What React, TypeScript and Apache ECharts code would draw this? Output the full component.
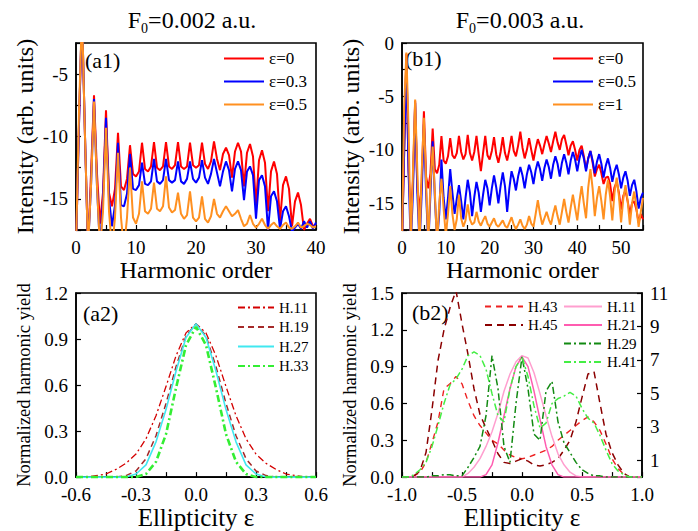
import React, { useEffect, useRef } from 'react';
import * as echarts from 'echarts';

const FONT = "'Liberation Serif', 'Times New Roman', Times, serif";

// ---------- panel (a1): harmonic order 0..40, sampled every half order ----------
const A1_HARMONIC = Array.from({ length: 81 }, (_, i) => i * 0.5);
const A1_EPS0 = [
  -19, -9, 0, -10, -19, -13, -6.7, -13, -17.0, -14.5,
  -7.9, -14.5, -15.6, -14.2, -9.7, -14.0, -14.3, -13.4, -10.7, -13.0,
  -13.2, -12.8, -10.5, -12.6, -12.8, -12.4, -10.45, -12.5, -12.7, -12.4,
  -10.45, -12.4, -12.6, -12.3, -10.45, -12.4, -12.6, -12.4, -10.5, -12.3,
  -12.5, -12.3, -10.5, -12.2, -12.6, -12.0, -10.4, -11.8, -12.7, -11.4,
  -10.9, -11.5, -13.3, -11.2, -10.5, -11.2, -14.0, -11.3, -10.6, -11.6,
  -15.5, -11.9, -11.1, -12.1, -16.0, -12.8, -12.0, -13.0, -16.8, -13.9,
  -13.2, -14.2, -17.2, -15.2, -14.5, -15.5, -17.5, -17.0, -16.6, -17.2,
  -17.1,
];
const A1_EPS03 = [
  -19, -9, 0, -10, -19, -14, -7.0, -14, -19, -15,
  -8.5, -15, -17.2, -15.5, -10.5, -15.5, -15.6, -14.6, -11.4, -14.2,
  -14.3, -13.9, -12.1, -13.8, -13.9, -13.6, -11.8, -13.6, -13.8, -13.5,
  -11.8, -13.5, -13.7, -13.5, -12.0, -13.6, -13.8, -13.4, -12.0, -13.4,
  -13.7, -13.3, -11.9, -13.3, -13.8, -13.0, -11.8, -12.9, -14.0, -12.8,
  -12.0, -12.7, -14.4, -12.6, -12.0, -12.7, -15.1, -12.8, -12.4, -13.1,
  -16.6, -13.5, -13.1, -14.0, -17.5, -14.8, -14.4, -15.2, -17.4, -16.0,
  -15.6, -16.4, -17.6, -17.3, -17.0, -17.4, -16.8, -17.3, -16.8, -17.4,
  -16.9,
];
const A1_EPS05 = [
  -19, -8, 0, -10, -19, -14, -7.2, -14, -19, -16,
  -9.3, -16, -19, -16.5, -11.3, -16.5, -19, -16.5, -12.5, -16.5,
  -17.0, -16.2, -13.6, -16.0, -16.2, -15.8, -13.7, -15.8, -16.0, -15.6,
  -13.2, -15.7, -16.1, -15.9, -14.5, -16.2, -16.6, -16.3, -14.4, -16.5,
  -16.8, -16.5, -14.8, -16.6, -16.9, -16.4, -15.0, -16.2, -16.5, -16.0,
  -15.6, -16.0, -16.4, -16.2, -15.9, -16.6, -17.2, -17.0, -16.3, -17.0,
  -17.3, -17.0, -16.6, -17.1, -17.4, -17.1, -16.9, -17.2, -17.4, -17.1,
  -16.9, -17.3, -17.4, -17.2, -16.9, -17.3, -17.2, -17.0, -17.1, -17.3,
  -17.2,
];

// ---------- panel (b1): harmonic order 0..55, sampled every half order ----------
const B1_HARMONIC = Array.from({ length: 111 }, (_, i) => i * 0.5);
const B1_EPS0 = [
  -19, -10, -1.0, -12, -16.0, -13, -5.4, -13.5, -15.8, -13,
  -6.4, -12.5, -13.6, -12.2, -8.0, -11.8, -12.2, -11.4, -8.7, -11.0,
  -11.3, -10.6, -8.9, -10.5, -10.8, -10.3, -8.7, -10.2, -10.9, -10.4,
  -8.6, -10.3, -11.0, -10.2, -8.7, -10.4, -12.0, -10.3, -8.7, -10.5,
  -10.9, -10.1, -8.8, -10.4, -11.2, -10.2, -8.8, -10.3, -11.0, -10.0,
  -8.7, -10.1, -10.6, -9.6, -8.3, -9.8, -10.8, -10.0, -8.9, -10.0,
  -11.0, -9.9, -9.0, -9.6, -10.4, -9.5, -8.7, -9.4, -10.2, -9.2,
  -8.3, -9.3, -10.0, -9.0, -8.6, -9.5, -10.5, -9.6, -9.2, -10.0,
  -11.0, -10.0, -9.6, -10.6, -11.8, -10.8, -10.1, -11.2, -12.5, -11.8,
  -11.4, -12.2, -13.2, -12.6, -12.5, -13.2, -14.8, -13.5, -13.0, -14.0,
  -15.6, -14.3, -13.8, -14.8, -16.0, -15.0, -14.8, -15.6, -16.8, -16.0,
  -16.5,
];
const B1_EPS05 = [
  -19, -10, -1.5, -12, -19, -14, -5.6, -14, -19, -14,
  -7.6, -14, -19, -14, -9.2, -14.5, -18.5, -16.0, -10.9, -14.5,
  -16.5, -14.5, -11.8, -14.0, -16.0, -14.6, -13.3, -14.8, -16.5, -14.5,
  -12.8, -14.0, -16.2, -14.4, -13.0, -14.0, -15.8, -14.2, -12.8, -13.6,
  -15.2, -13.6, -12.4, -13.5, -15.0, -13.4, -12.1, -13.4, -15.8, -13.6,
  -12.0, -12.7, -13.8, -12.5, -11.6, -12.4, -13.6, -12.3, -11.4, -12.1,
  -13.2, -11.9, -11.1, -11.8, -12.9, -11.7, -10.9, -11.6, -12.7, -11.4,
  -10.6, -11.3, -12.5, -11.2, -10.4, -11.2, -12.3, -11.0, -10.2, -10.9,
  -12.0, -10.8, -10.0, -10.8, -12.0, -10.8, -10.1, -11.0, -12.2, -11.1,
  -10.4, -11.3, -12.6, -11.5, -10.8, -11.7, -13.0, -12.0, -11.4, -12.3,
  -13.6, -12.6, -12.0, -12.9, -14.3, -13.3, -12.8, -13.9, -15.5, -14.5,
  -14.0,
];
const B1_EPS1 = [
  -19, -6, -0.9, -8, -19, -12, -5.3, -12, -19, -12,
  -7.0, -13, -19, -13, -9.7, -14, -19, -15, -12.7, -15.5,
  -18, -16, -13.4, -16, -17.5, -16.5, -14.2, -16.4, -17.2, -16.6,
  -15.1, -16.5, -17.0, -16.8, -15.8, -16.7, -17.1, -16.6, -16.2, -16.9,
  -17.2, -16.8, -16.4, -17.0, -17.2, -16.9, -16.6, -17.1, -17.3, -16.8,
  -16.3, -17.0, -17.4, -17.0, -16.5, -17.1, -17.4, -17.0, -16.2, -16.9,
  -17.2, -16.0, -14.7, -16.0, -17.0, -16.4, -15.8, -16.5, -17.0, -16.0,
  -15.2, -16.2, -17.0, -15.8, -14.6, -15.8, -16.8, -15.4, -14.2, -15.4,
  -16.6, -14.8, -13.4, -15.0, -16.4, -13.5, -11.8, -13.6, -16.2, -14.5,
  -13.4, -14.8, -16.5, -14.2, -12.8, -14.4, -16.6, -14.0, -12.6, -14.3,
  -16.8, -14.6, -13.3, -14.8, -17.0, -15.0, -13.9, -15.4, -17.2, -15.8,
  -14.5,
];

// ---------- panel (a2): ellipticity -0.6..0.6 ----------
const A2_EPS = [
  -0.6, -0.55, -0.5, -0.45, -0.4, -0.35, -0.3, -0.25, -0.2, -0.15, -0.1, -0.05,
  0, 0.05, 0.1, 0.15, 0.2, 0.25, 0.3, 0.35, 0.4, 0.45, 0.5, 0.55, 0.6,
];
const A2_H11 = [0, 0, 0.01, 0.02, 0.05, 0.09, 0.15, 0.25, 0.40, 0.59, 0.79, 0.94, 1.0, 0.94, 0.79, 0.59, 0.40, 0.25, 0.15, 0.09, 0.05, 0.02, 0.01, 0, 0];
const A2_H19 = [0, 0, 0, 0, 0, 0.01, 0.04, 0.12, 0.27, 0.48, 0.72, 0.92, 1.0, 0.92, 0.72, 0.48, 0.27, 0.12, 0.04, 0.01, 0, 0, 0, 0, 0];
const A2_H27 = [0, 0, 0, 0, 0, 0, 0.02, 0.08, 0.23, 0.44, 0.69, 0.91, 1.0, 0.91, 0.69, 0.44, 0.23, 0.08, 0.02, 0, 0, 0, 0, 0, 0];
const A2_H33 = [0, 0, 0, 0, 0, 0, 0, 0.02, 0.1, 0.28, 0.58, 0.86, 0.98, 0.86, 0.58, 0.28, 0.1, 0.02, 0, 0, 0, 0, 0, 0, 0];

// ---------- panel (b2): ellipticity -1..1 ----------
const B2_EPS = [
  -1, -0.95, -0.9, -0.85, -0.8, -0.75, -0.7, -0.65, -0.6, -0.55, -0.5, -0.45, -0.4, -0.35, -0.3, -0.25, -0.2, -0.15, -0.1, -0.05,
  0, 0.05, 0.1, 0.15, 0.2, 0.25, 0.3, 0.35, 0.4, 0.45, 0.5, 0.55, 0.6, 0.65, 0.7, 0.75, 0.8, 0.85, 0.9, 0.95, 1,
];
const B2_H43 = [0, 0, 0.01, 0.04, 0.12, 0.28, 0.45, 0.72, 0.76, 0.82, 0.76, 0.62, 0.5, 0.42, 0.36, 0.3, 0.27, 0.22, 0.18, 0.16, 0.15, 0.16, 0.18, 0.2, 0.22, 0.25, 0.3, 0.34, 0.38, 0.42, 0.46, 0.49, 0.45, 0.38, 0.27, 0.15, 0.07, 0.02, 0, 0, 0];
const B2_H45 = [0, 0, 0.01, 0.05, 0.2, 0.55, 0.95, 1.2, 1.38, 1.52, 1.25, 1.0, 0.72, 0.51, 0.4, 0.3, 0.19, 0.12, 0.11, 0.13, 0.15, 0.13, 0.1, 0.09, 0.1, 0.12, 0.15, 0.22, 0.3, 0.45, 0.65, 0.84, 0.86, 0.6, 0.35, 0.2, 0.1, 0.03, 0, 0, 0];
const B2_H11 = [0, 0, 0, 0, 0, 0, 0, 0, 0, 0, 0, 0.03, 0.08, 0.15, 0.25, 0.37, 0.52, 0.7, 0.84, 0.94, 0.99, 0.97, 0.85, 0.68, 0.5, 0.33, 0.19, 0.1, 0.04, 0.01, 0, 0, 0, 0, 0, 0, 0, 0, 0, 0, 0];
const B2_H21 = [0, 0, 0, 0, 0, 0, 0, 0, 0, 0, 0, 0, 0, 0, 0.02, 0.1, 0.28, 0.5, 0.72, 0.9, 0.98, 0.9, 0.7, 0.47, 0.25, 0.1, 0.02, 0, 0, 0, 0, 0, 0, 0, 0, 0, 0, 0, 0, 0, 0];
const B2_H29 = [0, 0, 0, 0, 0, 0.01, 0.01, 0.02, 0.02, 0.01, 0.01, 0.08, 0.16, 0.25, 0.5, 0.99, 0.72, 0.25, 0.12, 0.6, 0.98, 0.72, 0.35, 0.3, 0.7, 0.78, 0.45, 0.28, 0.2, 0.12, 0.06, 0.03, 0.01, 0.01, 0, 0, 0, 0, 0, 0, 0];
const B2_H41 = [0, 0, 0.02, 0.06, 0.12, 0.25, 0.42, 0.6, 0.75, 0.8, 0.88, 0.99, 1.02, 0.99, 0.88, 0.68, 0.5, 0.45, 0.72, 0.9, 0.98, 0.82, 0.58, 0.4, 0.44, 0.6, 0.64, 0.66, 0.69, 0.66, 0.56, 0.48, 0.44, 0.34, 0.22, 0.11, 0.05, 0.02, 0, 0, 0];

const pairs = (xs: number[], ys: number[]) => ys.map((y, i) => [xs[i], y]);

const lineSeries = (
  name: string, xs: number[], ys: number[], gi: number, yi: number,
  color: string, width: number, type: any = 'solid',
) => ({
  type: 'line', name, xAxisIndex: gi, yAxisIndex: yi,
  data: pairs(xs, ys), symbol: 'none', showSymbol: false, clip: true,
  lineStyle: { color, width, type }, itemStyle: { color },
  emphasis: { disabled: true }, silent: true,
});

const isMult = (v: number, step: number) => {
  const k = v / step;
  return Math.abs(k - Math.round(k)) < 1e-6;
};
const fix1 = (v: number) => (Math.abs(v) < 1e-9 ? '0.0' : v.toFixed(1));

const axisBase = (fontSize = 19) => ({
  axisLine: { show: true, onZero: false, lineStyle: { color: '#000', width: 1.5 } },
  axisTick: { show: true, inside: true, length: 5, lineStyle: { color: '#000', width: 1.2 } },
  splitLine: { show: false },
  axisLabel: { color: '#000', fontSize, fontFamily: FONT, margin: 8 },
  nameLocation: 'middle',
  nameTextStyle: { color: '#000', fontFamily: FONT, fontSize: 24 },
});

const legend = (left: number, top: number, names: string[], fontSize: number, itemWidth: number, itemGap: number) => ({
  left, top, orient: 'vertical', data: names, itemWidth, itemHeight: 12, itemGap, padding: 0,
  selectedMode: false, formatter: (n: string) => n.split('|')[1],
  itemStyle: { opacity: 0, borderWidth: 0 },
  textStyle: { fontFamily: FONT, fontSize, color: '#000' },
});

const titleText = (x: number, value: string) => ({
  type: 'text', x, y: 20, silent: true,
  style: {
    text: `{m|F}{s|0}{m|=${value} a.u.}`,
    align: 'center', textAlign: 'center', verticalAlign: 'middle', textVerticalAlign: 'middle',
    rich: {
      m: { fontFamily: FONT, fontSize: 24, lineHeight: 30, fill: '#000' },
      s: { fontFamily: FONT, fontSize: 14, lineHeight: 14, verticalAlign: 'bottom', fill: '#000' },
    },
  },
});

const panelLabel = (x: number, y: number, text: string) => ({
  type: 'text', x, y, silent: true,
  style: { text, fontFamily: FONT, fontSize: 22, fill: '#000', verticalAlign: 'middle', textVerticalAlign: 'middle' },
});

const DASH_DOT = [7, 3, 2, 3];

const buildOption = () => ({
  animation: false,
  backgroundColor: '#fff',
  textStyle: { fontFamily: FONT },
  grid: [
    { left: 76, top: 43, width: 240, height: 187 },
    { left: 402, top: 43, width: 241, height: 187 },
    { left: 76, top: 293, width: 240, height: 188 },
    { left: 402, top: 293, width: 240, height: 188 },
  ].map((g) => ({ ...g, show: true, borderColor: '#000', borderWidth: 1.6, backgroundColor: 'transparent' })),
  xAxis: [
    {
      ...axisBase(), type: 'value', gridIndex: 0, min: 0, max: 40, interval: 5,
      name: 'Harmonic order', nameGap: 23,
      axisLabel: { ...axisBase().axisLabel, formatter: (v: number) => (isMult(v, 10) ? String(v) : '') },
    },
    {
      ...axisBase(), type: 'value', gridIndex: 1, min: 0, max: 55, interval: 5,
      name: 'Harmonic order', nameGap: 23,
      axisLabel: { ...axisBase().axisLabel, formatter: (v: number) => (isMult(v, 10) ? String(v) : '') },
    },
    {
      ...axisBase(), type: 'value', gridIndex: 2, min: -0.6, max: 0.6, interval: 0.15,
      name: 'Ellipticity ε', nameGap: 24, nameTextStyle: { color: '#000', fontFamily: FONT, fontSize: 25 },
      axisLabel: { ...axisBase().axisLabel, formatter: (v: number) => (isMult(v, 0.3) ? fix1(v) : '') },
    },
    {
      ...axisBase(), type: 'value', gridIndex: 3, min: -1, max: 1, interval: 0.25,
      name: 'Ellipticity ε', nameGap: 24, nameTextStyle: { color: '#000', fontFamily: FONT, fontSize: 25 },
      axisLabel: { ...axisBase().axisLabel, formatter: (v: number) => (isMult(v, 0.5) ? fix1(v) : '') },
    },
  ],
  yAxis: [
    {
      ...axisBase(), type: 'value', gridIndex: 0, min: -17.5, max: -2.5, interval: 2.5,
      name: 'Intensity (arb. units)', nameGap: 39,
      axisLabel: { ...axisBase().axisLabel, formatter: (v: number) => (isMult(v, 5) ? String(v) : '') },
    },
    {
      ...axisBase(), type: 'value', gridIndex: 1, min: -17.5, max: 0, interval: 2.5,
      name: 'Intensity (arb. units)', nameGap: 39,
      axisLabel: { ...axisBase().axisLabel, formatter: (v: number) => (isMult(v, 5) ? String(v) : '') },
    },
    {
      ...axisBase(), type: 'value', gridIndex: 2, min: 0, max: 1.2, interval: 0.3,
      name: 'Normalized harmonic yield', nameGap: 43, nameTextStyle: { color: '#000', fontFamily: FONT, fontSize: 18.5 },
      axisLabel: { ...axisBase().axisLabel, formatter: (v: number) => fix1(v) },
    },
    {
      ...axisBase(), type: 'value', gridIndex: 3, min: 0, max: 1.5, interval: 0.3,
      name: 'Normalized harmonic yield', nameGap: 43, nameTextStyle: { color: '#000', fontFamily: FONT, fontSize: 18.5 },
      axisLabel: { ...axisBase().axisLabel, formatter: (v: number) => fix1(v) },
    },
    {
      ...axisBase(), type: 'value', gridIndex: 3, position: 'right', inverse: true,
      min: 0, max: 5.5, interval: 1,
      axisLabel: { ...axisBase().axisLabel, formatter: (w: number) => (Number.isInteger(w) ? String(11 - 2 * w) : '') },
    },
  ],
  legend: [
    legend(223, 50, ['a1|ε=0', 'a1|ε=0.3', 'a1|ε=0.5'], 17, 40, 6),
    legend(552, 50, ['b1|ε=0', 'b1|ε=0.5', 'b1|ε=1'], 17, 40, 6),
    legend(237, 300, ['a2|H.11', 'a2|H.19', 'a2|H.27', 'a2|H.33'], 15, 36, 4.5),
    legend(484, 299, ['b2|H.43', 'b2|H.45'], 15, 38, 3.5),
    legend(563, 299, ['b2|H.11', 'b2|H.21', 'b2|H.29', 'b2|H.41'], 15, 38, 3.5),
  ],
  graphic: [
    titleText(192, '0.002'),
    titleText(520, '0.003'),
    panelLabel(85, 60, '(a1)'),
    panelLabel(405, 58, '(b1)'),
    panelLabel(83, 313, '(a2)'),
    panelLabel(412, 312, '(b2)'),
  ],
  series: [
    lineSeries('a1|ε=0', A1_HARMONIC, A1_EPS0, 0, 0, '#ff0000', 2),
    lineSeries('a1|ε=0.3', A1_HARMONIC, A1_EPS03, 0, 0, '#0000ff', 2),
    lineSeries('a1|ε=0.5', A1_HARMONIC, A1_EPS05, 0, 0, '#ff9020', 2),
    lineSeries('b1|ε=0', B1_HARMONIC, B1_EPS0, 1, 1, '#ff0000', 2),
    lineSeries('b1|ε=0.5', B1_HARMONIC, B1_EPS05, 1, 1, '#0000ff', 2),
    lineSeries('b1|ε=1', B1_HARMONIC, B1_EPS1, 1, 1, '#ff9020', 2),
    lineSeries('a2|H.11', A2_EPS, A2_H11, 2, 2, '#d40000', 1.3, DASH_DOT),
    lineSeries('a2|H.19', A2_EPS, A2_H19, 2, 2, '#a52a2a', 1.5, [6, 4]),
    lineSeries('a2|H.27', A2_EPS, A2_H27, 2, 2, '#40e8f0', 1.6),
    lineSeries('a2|H.33', A2_EPS, A2_H33, 2, 2, '#33ee33', 2.6, DASH_DOT),
    lineSeries('b2|H.43', B2_EPS, B2_H43, 3, 3, '#ee2222', 1.4, [6, 5]),
    lineSeries('b2|H.45', B2_EPS, B2_H45, 3, 3, '#8b0000', 1.5, [7, 5]),
    lineSeries('b2|H.11', B2_EPS, B2_H11, 3, 3, '#ff9fcf', 1.5),
    lineSeries('b2|H.21', B2_EPS, B2_H21, 3, 3, '#ff5cb0', 1.5),
    lineSeries('b2|H.29', B2_EPS, B2_H29, 3, 3, '#128a12', 1.5, DASH_DOT),
    lineSeries('b2|H.41', B2_EPS, B2_H41, 3, 3, '#44ee44', 1.5, DASH_DOT),
  ],
});

export default function App() {
  const ref = useRef<HTMLDivElement>(null);
  useEffect(() => {
    if (!ref.current) return;
    const chart = echarts.init(ref.current, undefined, { renderer: 'svg' });
    chart.setOption(buildOption() as any);
    return () => chart.dispose();
  }, []);
  return (
    <div
      ref={ref}
      style={{ position: 'absolute', left: 0, top: 0, width: 698, height: 531, background: '#fff' }}
    />
  );
}
